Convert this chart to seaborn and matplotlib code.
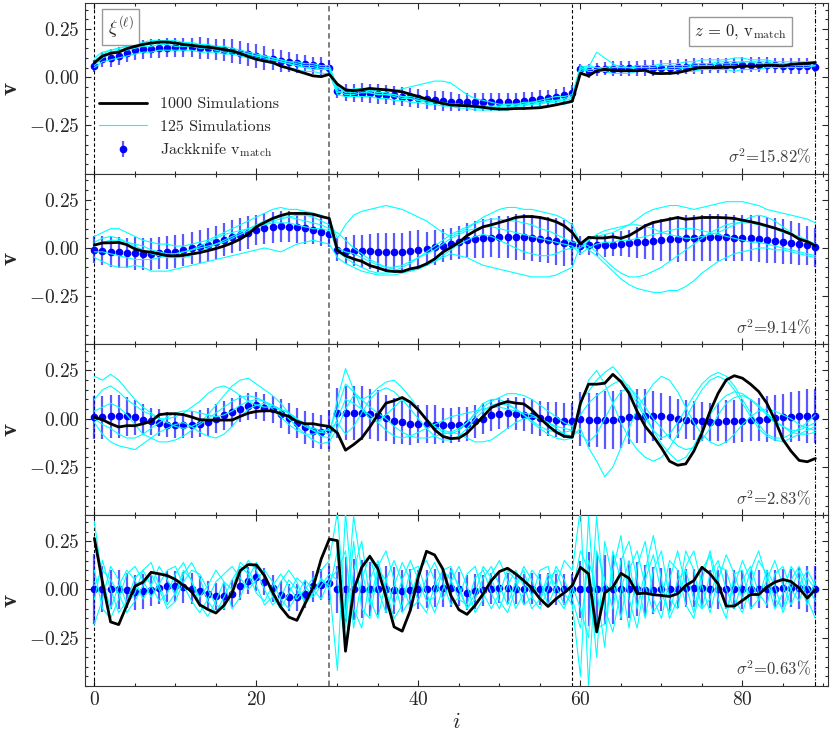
import matplotlib
matplotlib.use("Agg")
import matplotlib.pyplot as plt
from matplotlib.lines import Line2D
from matplotlib.ticker import MultipleLocator
import seaborn as sns
import pandas as pd
import numpy as np

IDX = list(range(90))
SIGMAS = ["15.82", "9.14", "2.83", "0.63"]
VLINES = [0, 29, 59, 89]

# ---- panel 1 ----
P1_BLACK = [0.075, 0.11, 0.124, 0.13, 0.148, 0.16, 0.17, 0.177, 0.182, 0.182,
            0.177, 0.17, 0.165, 0.16, 0.155, 0.151, 0.144, 0.136, 0.124, 0.107,
            0.093, 0.084, 0.076, 0.058, 0.046, 0.033, 0.02, 0.007, 0.003, 0.015,
            -0.036, -0.065, -0.07, -0.065, -0.058, -0.062, -0.065, -0.07, -0.076, -0.088,
            -0.1, -0.113, -0.125, -0.136, -0.144, -0.146, -0.148, -0.151, -0.156, -0.162,
            -0.165, -0.165, -0.162, -0.162, -0.16, -0.158, -0.151, -0.143, -0.134, -0.124,
            0.021, 0.007, 0.033, 0.041, 0.036, 0.033, 0.034, 0.034, 0.036, 0.02,
            0.019, 0.02, 0.024, 0.033, 0.045, 0.05, 0.05, 0.05, 0.052, 0.053,
            0.058, 0.057, 0.058, 0.062, 0.062, 0.058, 0.067, 0.07, 0.072, 0.076]
P1_JACK = [0.058, 0.093, 0.10, 0.11, 0.127, 0.139, 0.144, 0.148, 0.15, 0.153,
           0.155, 0.155, 0.155, 0.151, 0.15, 0.144, 0.141, 0.136, 0.127, 0.119,
           0.11, 0.10, 0.093, 0.084, 0.079, 0.072, 0.067, 0.062, 0.058, 0.05,
           -0.07, -0.08, -0.082, -0.08, -0.083, -0.087, -0.09, -0.093, -0.1, -0.104,
           -0.11, -0.115, -0.12, -0.123, -0.127, -0.13, -0.128, -0.128, -0.128, -0.128,
           -0.128, -0.126, -0.126, -0.124, -0.119, -0.113, -0.108, -0.101, -0.093, -0.082,
           0.041, 0.033, 0.041, 0.045, 0.045, 0.046, 0.046, 0.046, 0.048, 0.048,
           0.05, 0.05, 0.053, 0.055, 0.058, 0.058, 0.06, 0.06, 0.062, 0.062,
           0.064, 0.065, 0.065, 0.064, 0.062, 0.06, 0.058, 0.058, 0.058, 0.055]
P1_ERR = ([0.03, 0.04, 0.045, 0.045, 0.05, 0.05, 0.05, 0.05, 0.05, 0.05,
           0.05, 0.05, 0.05, 0.055, 0.055, 0.055, 0.055, 0.06, 0.06, 0.06,
           0.06, 0.06, 0.055, 0.055, 0.05, 0.05, 0.05, 0.045, 0.045, 0.04]
          + [0.04, 0.045, 0.045, 0.05, 0.05, 0.05, 0.05, 0.05, 0.05, 0.05,
             0.05, 0.05, 0.05, 0.05, 0.05, 0.045, 0.045, 0.045, 0.045, 0.045,
             0.045, 0.045, 0.045, 0.045, 0.045, 0.045, 0.04, 0.04, 0.04, 0.04]
          + [0.03, 0.035, 0.035, 0.035, 0.04, 0.04, 0.04, 0.04, 0.04, 0.04,
             0.04, 0.04, 0.04, 0.04, 0.04, 0.04, 0.04, 0.04, 0.04, 0.04,
             0.04, 0.04, 0.04, 0.04, 0.04, 0.04, 0.04, 0.04, 0.04, 0.03])
P1_CYAN = [
    [0.08, 0.12, 0.14, 0.15, 0.16, 0.17, 0.18, 0.19, 0.19, 0.19, 0.19, 0.18, 0.18, 0.17, 0.17,
     0.16, 0.16, 0.15, 0.14, 0.13, 0.12, 0.11, 0.1, 0.09, 0.08, 0.07, 0.06, 0.06, 0.05, 0.05,
     -0.06, -0.07, -0.07, -0.06, -0.07, -0.08, -0.08, -0.09, -0.1, -0.1, -0.11, -0.12, -0.13, -0.13, -0.14,
     -0.14, -0.15, -0.15, -0.15, -0.15, -0.15, -0.14, -0.14, -0.14, -0.13, -0.13, -0.12, -0.12, -0.11, -0.1,
     0.04, 0.05, 0.13, 0.1, 0.07, 0.05, 0.05, 0.04, 0.04, 0.04, 0.04, 0.05, 0.05, 0.05, 0.06,
     0.06, 0.06, 0.07, 0.07, 0.07, 0.08, 0.08, 0.08, 0.08, 0.07, 0.07, 0.07, 0.07, 0.08, 0.08],
    [0.05, 0.08, 0.09, 0.1, 0.11, 0.12, 0.13, 0.13, 0.14, 0.14, 0.14, 0.14, 0.14, 0.13, 0.13,
     0.13, 0.12, 0.12, 0.11, 0.1, 0.09, 0.08, 0.07, 0.06, 0.05, 0.04, 0.03, 0.03, 0.02, 0.02,
     -0.09, -0.1, -0.1, -0.1, -0.1, -0.11, -0.11, -0.12, -0.12, -0.13, -0.13, -0.14, -0.14, -0.15, -0.15,
     -0.16, -0.16, -0.17, -0.17, -0.17, -0.17, -0.17, -0.16, -0.16, -0.16, -0.15, -0.15, -0.14, -0.14, -0.13,
     0.05, 0.03, 0.03, 0.03, 0.02, 0.02, 0.02, 0.03, 0.03, 0.02, 0.02, 0.02, 0.03, 0.03, 0.03,
     0.04, 0.04, 0.04, 0.04, 0.03, 0.04, 0.04, 0.04, 0.05, 0.05, 0.05, 0.05, 0.05, 0.05, 0.06],
    [0.1, 0.13, 0.14, 0.15, 0.16, 0.17, 0.17, 0.18, 0.18, 0.18, 0.17, 0.17, 0.16, 0.16, 0.15,
     0.15, 0.14, 0.14, 0.13, 0.12, 0.11, 0.11, 0.1, 0.09, 0.08, 0.08, 0.07, 0.07, 0.06, 0.06,
     -0.05, -0.08, -0.08, -0.07, -0.07, -0.07, -0.07, -0.07, -0.06, -0.05, -0.04, -0.03, -0.02, -0.02, -0.03,
     -0.06, -0.09, -0.11, -0.12, -0.13, -0.14, -0.14, -0.14, -0.13, -0.13, -0.12, -0.11, -0.1, -0.1, -0.09,
     0.06, 0.05, 0.05, 0.04, 0.05, 0.05, 0.05, 0.06, 0.06, 0.06, 0.07, 0.07, 0.07, 0.08, 0.08,
     0.09, 0.09, 0.09, 0.09, 0.1, 0.1, 0.09, 0.09, 0.09, 0.08, 0.08, 0.08, 0.08, 0.08, 0.07],
    [0.06, 0.1, 0.12, 0.13, 0.14, 0.15, 0.16, 0.16, 0.17, 0.17, 0.16, 0.16, 0.16, 0.15, 0.15,
     0.14, 0.13, 0.13, 0.12, 0.11, 0.1, 0.09, 0.09, 0.08, 0.07, 0.06, 0.05, 0.04, 0.04, 0.04,
     -0.07, -0.09, -0.09, -0.08, -0.08, -0.09, -0.09, -0.1, -0.11, -0.11, -0.12, -0.13, -0.13, -0.14, -0.14,
     -0.15, -0.15, -0.16, -0.16, -0.16, -0.16, -0.16, -0.15, -0.15, -0.14, -0.14, -0.13, -0.13, -0.12, -0.11,
     0.03, 0.04, 0.04, 0.04, 0.04, 0.03, 0.03, 0.03, 0.04, 0.04, 0.04, 0.04, 0.04, 0.05, 0.05,
     0.05, 0.05, 0.05, 0.06, 0.06, 0.06, 0.06, 0.06, 0.06, 0.06, 0.06, 0.06, 0.07, 0.07, 0.07],
    [0.09, 0.11, 0.13, 0.14, 0.15, 0.16, 0.17, 0.17, 0.18, 0.18, 0.18, 0.18, 0.17, 0.17, 0.16,
     0.16, 0.15, 0.14, 0.13, 0.12, 0.11, 0.1, 0.09, 0.08, 0.07, 0.06, 0.05, 0.05, 0.04, 0.05,
     -0.08, -0.07, -0.06, -0.06, -0.08, -0.09, -0.09, -0.09, -0.1, -0.11, -0.12, -0.12, -0.13, -0.14, -0.14,
     -0.14, -0.15, -0.15, -0.16, -0.16, -0.15, -0.15, -0.15, -0.14, -0.14, -0.13, -0.13, -0.12, -0.12, -0.11,
     0.05, 0.06, 0.05, 0.05, 0.06, 0.06, 0.05, 0.05, 0.05, 0.05, 0.06, 0.06, 0.06, 0.06, 0.07,
     0.07, 0.07, 0.08, 0.08, 0.08, 0.08, 0.08, 0.07, 0.07, 0.07, 0.07, 0.06, 0.06, 0.06, 0.06],
]

# ---- panel 2 ----
P2_BLACK = [0.015, 0.026, 0.027, 0.029, 0.017, -0.005, -0.017, -0.022, -0.031, -0.04,
            -0.041, -0.038, -0.031, -0.024, -0.014, -0.003, 0.01, 0.026, 0.046, 0.072,
            0.11, 0.132, 0.153, 0.168, 0.179, 0.179, 0.179, 0.175, 0.163, 0.153,
            -0.014, -0.04, -0.057, -0.069, -0.091, -0.103, -0.117, -0.122, -0.122, -0.108,
            -0.1, -0.082, -0.057, -0.022, 0.003, 0.029, 0.064, 0.089, 0.11, 0.12,
            0.132, 0.144, 0.158, 0.163, 0.163, 0.158, 0.149, 0.136, 0.115, 0.08,
            0.021, 0.055, 0.052, 0.052, 0.058, 0.05, 0.064, 0.089, 0.115, 0.132,
            0.141, 0.149, 0.158, 0.149, 0.153, 0.158, 0.158, 0.158, 0.156, 0.153,
            0.144, 0.136, 0.127, 0.115, 0.103, 0.089, 0.072, 0.046, 0.033, 0.012]
P2_JACK = [-0.01, -0.014, -0.019, -0.022, -0.026, -0.027, -0.031, -0.031, -0.026, -0.022,
           -0.019, -0.01, 0.0, 0.007, 0.017, 0.029, 0.043, 0.058, 0.069, 0.079,
           0.093, 0.101, 0.107, 0.112, 0.11, 0.107, 0.101, 0.095, 0.084, 0.075,
           -0.01, -0.014, -0.014, -0.017, -0.017, -0.022, -0.022, -0.022, -0.02, -0.014,
           -0.009, -0.005, 0.003, 0.012, 0.021, 0.029, 0.041, 0.045, 0.05, 0.053,
           0.057, 0.058, 0.058, 0.057, 0.053, 0.048, 0.043, 0.034, 0.026, 0.021,
           0.012, 0.014, 0.014, 0.015, 0.017, 0.021, 0.024, 0.029, 0.033, 0.038,
           0.041, 0.045, 0.048, 0.05, 0.052, 0.053, 0.055, 0.055, 0.055, 0.053,
           0.052, 0.05, 0.046, 0.043, 0.038, 0.033, 0.028, 0.021, 0.014, 0.003]
P2_ERR = ([0.07, 0.075, 0.08, 0.08, 0.08, 0.085, 0.085, 0.085, 0.085, 0.085,
           0.085, 0.085, 0.085, 0.085, 0.085, 0.085, 0.085, 0.085, 0.085, 0.085,
           0.08, 0.08, 0.08, 0.08, 0.08, 0.08, 0.08, 0.075, 0.075, 0.07]
          + [0.06, 0.07, 0.08, 0.085, 0.09, 0.1, 0.1, 0.1, 0.1, 0.1,
             0.1, 0.09, 0.09, 0.085, 0.085, 0.085, 0.09, 0.095, 0.1, 0.1,
             0.11, 0.11, 0.12, 0.12, 0.12, 0.12, 0.12, 0.12, 0.12, 0.11]
          + [0.05, 0.05, 0.055, 0.06, 0.06, 0.065, 0.07, 0.08, 0.09, 0.1,
             0.11, 0.115, 0.12, 0.12, 0.12, 0.12, 0.12, 0.12, 0.12, 0.12,
             0.12, 0.12, 0.12, 0.12, 0.115, 0.115, 0.11, 0.11, 0.1, 0.1])
P2_CYAN = [
    [0.06, 0.08, 0.1, 0.1, 0.08, 0.06, 0.04, 0.03, 0.02, 0.02, 0.01, 0.01, 0.02, 0.03, 0.04,
     0.06, 0.08, 0.1, 0.12, 0.14, 0.16, 0.18, 0.2, 0.21, 0.2, 0.2, 0.19, 0.18, 0.17, 0.15,
     0.05, 0.12, 0.17, 0.19, 0.2, 0.21, 0.22, 0.21, 0.2, 0.18, 0.16, 0.14, 0.11, 0.08, 0.06,
     0.08, 0.1, 0.13, 0.16, 0.18, 0.2, 0.21, 0.21, 0.2, 0.2, 0.19, 0.18, 0.17, 0.15, 0.12,
     0.02, 0.04, 0.06, 0.07, 0.08, 0.1, 0.12, 0.15, 0.18, 0.2, 0.21, 0.22, 0.22, 0.21, 0.2,
     0.21, 0.22, 0.23, 0.24, 0.24, 0.24, 0.23, 0.22, 0.2, 0.19, 0.18, 0.17, 0.16, 0.15, 0.13],
    [-0.05, -0.07, -0.09, -0.1, -0.1, -0.09, -0.1, -0.12, -0.12, -0.12, -0.11, -0.1, -0.09, -0.08, -0.07,
     -0.06, -0.05, -0.04, -0.03, -0.02, -0.01, 0.0, -0.01, -0.02, 0.0, 0.02, 0.03, 0.04, 0.03, 0.02,
     -0.05, -0.08, -0.1, -0.12, -0.13, -0.14, -0.14, -0.14, -0.13, -0.12, -0.1, -0.09, -0.07, -0.05, -0.03,
     -0.04, -0.05, -0.07, -0.09, -0.1, -0.11, -0.12, -0.13, -0.14, -0.15, -0.15, -0.15, -0.14, -0.12, -0.1,
     0.02, -0.01, -0.04, -0.08, -0.12, -0.16, -0.19, -0.21, -0.22, -0.23, -0.23, -0.22, -0.22, -0.2, -0.17,
     -0.13, -0.1, -0.07, -0.05, -0.03, -0.02, -0.01, 0.0, 0.0, -0.01, -0.01, -0.02, -0.03, -0.04, -0.05],
    [0.03, 0.05, 0.06, 0.05, 0.03, 0.01, -0.01, -0.03, -0.04, -0.05, -0.05, -0.05, -0.04, -0.02, 0.0,
     0.02, 0.04, 0.06, 0.08, 0.1, 0.12, 0.14, 0.15, 0.16, 0.16, 0.15, 0.14, 0.13, 0.12, 0.1,
     -0.02, -0.05, -0.08, -0.1, -0.12, -0.13, -0.13, -0.12, -0.1, -0.08, -0.05, -0.02, 0.01, 0.04, 0.07,
     0.09, 0.11, 0.13, 0.14, 0.15, 0.15, 0.14, 0.14, 0.13, 0.12, 0.1, 0.09, 0.07, 0.05, 0.03,
     0.03, 0.01, -0.02, -0.06, -0.1, -0.13, -0.15, -0.15, -0.14, -0.12, -0.1, -0.07, -0.04, -0.01, 0.02,
     0.05, 0.08, 0.1, 0.12, 0.13, 0.13, 0.13, 0.12, 0.11, 0.1, 0.08, 0.07, 0.06, 0.04, 0.02],
    [-0.02, -0.02, -0.03, -0.04, -0.05, -0.06, -0.06, -0.06, -0.05, -0.04, -0.03, -0.02, -0.01, 0.0, 0.01,
     0.02, 0.03, 0.05, 0.07, 0.09, 0.11, 0.12, 0.13, 0.13, 0.13, 0.12, 0.11, 0.1, 0.1, 0.09,
     0.08, 0.04, 0.0, -0.03, -0.06, -0.08, -0.1, -0.11, -0.12, -0.12, -0.11, -0.09, -0.07, -0.04, -0.01,
     0.02, 0.04, 0.06, 0.07, 0.06, 0.04, 0.02, 0.0, -0.02, -0.03, -0.04, -0.04, -0.03, -0.01, 0.0,
     0.0, 0.04, 0.07, 0.09, 0.1, 0.11, 0.12, 0.12, 0.11, 0.1, 0.08, 0.07, 0.06, 0.05, 0.05,
     0.06, 0.07, 0.08, 0.1, 0.12, 0.14, 0.16, 0.17, 0.16, 0.14, 0.11, 0.08, 0.05, 0.03, 0.01],
    [0.01, 0.03, 0.04, 0.04, 0.03, 0.02, 0.01, -0.01, -0.02, -0.03, -0.03, -0.02, -0.01, 0.01, 0.03,
     0.05, 0.07, 0.08, 0.09, 0.1, 0.11, 0.12, 0.14, 0.15, 0.16, 0.17, 0.17, 0.16, 0.14, 0.12,
     0.0, -0.02, -0.03, -0.05, -0.07, -0.09, -0.1, -0.1, -0.09, -0.07, -0.05, -0.03, -0.01, 0.02, 0.05,
     0.07, 0.09, 0.1, 0.11, 0.11, 0.1, 0.09, 0.08, 0.07, 0.06, 0.05, 0.04, 0.03, 0.02, 0.01,
     -0.03, 0.0, 0.02, 0.03, 0.03, 0.04, 0.04, 0.05, 0.06, 0.07, 0.08, 0.09, 0.1, 0.1, 0.1,
     0.09, 0.08, 0.07, 0.06, 0.05, 0.04, 0.03, 0.03, 0.02, 0.01, 0.0, -0.01, -0.02, -0.03, -0.04],
]

# ---- panel 3 ----
P3_BLACK = [0.007, -0.005, -0.026, -0.043, -0.036, -0.036, -0.026, -0.014, 0.021, 0.026,
            0.026, 0.021, 0.009, -0.005, -0.007, -0.007, -0.007, -0.007, 0.012, 0.029,
            0.038, 0.041, 0.041, 0.026, 0.012, -0.014, -0.026, -0.026, -0.034, -0.04,
            -0.074, -0.163, -0.134, -0.1, -0.043, 0.021, 0.081, 0.093, 0.11, 0.086,
            0.046, -0.005, -0.057, -0.091, -0.103, -0.1, -0.074, -0.031, 0.012, 0.058,
            0.076, 0.089, 0.081, 0.077, 0.046, 0.003, -0.036, -0.069, -0.091, -0.096,
            0.081, 0.179, 0.179, 0.184, 0.23, 0.192, 0.132, 0.038, -0.04, -0.091,
            -0.151, -0.22, -0.241, -0.234, -0.168, -0.074, 0.038, 0.132, 0.201, 0.223,
            0.21, 0.179, 0.141, 0.081, -0.005, -0.108, -0.168, -0.216, -0.223, -0.206]
P3_JACK = [0.007, 0.007, 0.012, 0.012, 0.012, 0.007, -0.005, -0.014, -0.022, -0.031,
           -0.034, -0.034, -0.031, -0.026, -0.017, 0.0, 0.017, 0.034, 0.052, 0.064,
           0.069, 0.058, 0.05, 0.026, 0.003, -0.022, -0.045, -0.062, -0.069, -0.055,
           0.029, 0.029, 0.029, 0.029, 0.024, 0.017, 0.003, -0.01, -0.019, -0.026,
           -0.027, -0.027, -0.031, -0.034, -0.034, -0.031, -0.027, -0.014, 0.0, 0.017,
           0.026, 0.029, 0.026, 0.021, 0.012, 0.003, -0.002, -0.005, -0.01, -0.01,
           0.0, -0.005, -0.007, -0.007, -0.005, 0.0, 0.007, 0.012, 0.014, 0.012,
           0.012, 0.007, 0.0, -0.005, -0.01, -0.014, -0.017, -0.017, -0.014, -0.014,
           -0.01, -0.007, -0.005, 0.0, 0.003, 0.007, 0.01, 0.012, 0.012, 0.012]
P3_ERR = ([0.11, 0.11, 0.11, 0.11, 0.1, 0.09, 0.08, 0.07, 0.07, 0.065,
           0.065, 0.065, 0.07, 0.07, 0.075, 0.075, 0.075, 0.075, 0.07, 0.07,
           0.07, 0.07, 0.07, 0.075, 0.08, 0.08, 0.085, 0.09, 0.09, 0.1]
          + [0.13, 0.14, 0.14, 0.14, 0.13, 0.13, 0.12, 0.12, 0.11, 0.11,
             0.1, 0.1, 0.1, 0.09, 0.09, 0.09, 0.09, 0.085, 0.08, 0.08,
             0.08, 0.08, 0.085, 0.085, 0.09, 0.09, 0.09, 0.09, 0.09, 0.09]
          + [0.14, 0.14, 0.14, 0.15, 0.15, 0.15, 0.14, 0.14, 0.14, 0.13,
             0.12, 0.11, 0.1, 0.1, 0.1, 0.1, 0.1, 0.1, 0.11, 0.11,
             0.11, 0.11, 0.11, 0.12, 0.12, 0.12, 0.13, 0.13, 0.14, 0.14])
P3_CYAN = [
    [0.22, 0.2, 0.23, 0.2, 0.15, 0.1, 0.06, 0.03, 0.0, -0.02, -0.04, -0.05, -0.04, -0.02, 0.02,
     0.07, 0.12, 0.17, 0.2, 0.21, 0.18, 0.15, 0.12, 0.08, 0.03, -0.01, -0.04, -0.06, -0.07, -0.08,
     0.1, 0.26, 0.15, 0.05, 0.0, -0.02, 0.02, 0.06, 0.1, 0.08, 0.05, 0.0, -0.04, -0.07, -0.08,
     -0.06, -0.02, 0.03, 0.08, 0.1, 0.1, 0.08, 0.05, 0.02, -0.02, -0.05, -0.08, -0.1, -0.11, -0.1,
     0.1, 0.14, 0.2, 0.24, 0.27, 0.22, 0.15, 0.08, 0.0, -0.06, -0.1, -0.08, -0.02, 0.05, 0.12,
     0.18, 0.22, 0.24, 0.22, 0.17, 0.1, 0.03, -0.03, -0.08, -0.1, -0.1, -0.08, -0.05, -0.02, 0.02],
    [-0.02, -0.08, -0.12, -0.14, -0.15, -0.16, -0.13, -0.1, -0.07, -0.05, -0.03, -0.02, -0.04, -0.07, -0.09,
     -0.1, -0.08, -0.04, 0.01, 0.05, 0.07, 0.08, 0.07, 0.04, 0.0, -0.04, -0.08, -0.11, -0.13, -0.12,
     -0.05, 0.05, 0.12, 0.1, 0.06, 0.03, 0.0, -0.04, -0.07, -0.09, -0.1, -0.1, -0.09, -0.08, -0.07,
     -0.08, -0.1, -0.12, -0.12, -0.11, -0.08, -0.05, -0.02, 0.0, 0.01, 0.0, -0.02, -0.05, -0.08, -0.09,
     -0.05, -0.15, -0.22, -0.3, -0.25, -0.15, -0.05, 0.05, 0.12, 0.18, 0.22, 0.2, 0.14, 0.06, -0.02,
     -0.08, -0.12, -0.14, -0.12, -0.08, -0.03, 0.01, 0.04, 0.05, 0.04, 0.02, 0.0, -0.03, -0.05, -0.06],
    [0.1, 0.15, 0.17, 0.14, 0.1, 0.07, 0.04, 0.02, 0.0, 0.0, 0.01, 0.03, 0.06, 0.09, 0.13,
     0.16, 0.17, 0.15, 0.12, 0.09, 0.07, 0.06, 0.06, 0.05, 0.03, 0.0, -0.03, -0.05, -0.06, -0.06,
     0.05, 0.18, 0.14, 0.1, 0.12, 0.16, 0.19, 0.2, 0.16, 0.11, 0.05, 0.0, -0.04, -0.06, -0.07,
     -0.05, -0.02, 0.02, 0.06, 0.09, 0.11, 0.13, 0.13, 0.12, 0.1, 0.07, 0.04, 0.01, -0.02, -0.04,
     0.02, 0.08, 0.12, 0.15, 0.18, 0.2, 0.17, 0.1, 0.02, -0.06, -0.13, -0.18, -0.22, -0.2, -0.14,
     -0.06, 0.02, 0.08, 0.12, 0.14, 0.13, 0.1, 0.06, 0.02, -0.02, -0.04, -0.06, -0.06, -0.04, -0.02],
    [0.04, 0.06, 0.08, 0.06, 0.02, -0.03, -0.08, -0.1, -0.12, -0.12, -0.11, -0.09, -0.06, -0.03, 0.0,
     0.03, 0.06, 0.09, 0.11, 0.12, 0.11, 0.09, 0.05, 0.01, -0.03, -0.06, -0.08, -0.08, -0.07, -0.05,
     -0.02, -0.08, -0.04, 0.03, 0.1, 0.14, 0.16, 0.14, 0.1, 0.05, 0.0, -0.05, -0.09, -0.11, -0.11,
     -0.09, -0.05, 0.0, 0.04, 0.07, 0.08, 0.07, 0.05, 0.02, -0.01, -0.04, -0.06, -0.07, -0.07, -0.06,
     0.06, 0.2, 0.25, 0.18, 0.08, -0.02, -0.1, -0.16, -0.2, -0.22, -0.2, -0.15, -0.08, 0.0, 0.08,
     0.15, 0.2, 0.22, 0.2, 0.15, 0.08, 0.01, -0.05, -0.09, -0.11, -0.12, -0.1, -0.08, -0.06, -0.04],
    [0.0, -0.03, -0.05, -0.08, -0.1, -0.1, -0.08, -0.05, -0.02, 0.01, 0.03, 0.04, 0.04, 0.03, 0.02,
     0.01, 0.02, 0.04, 0.07, 0.09, 0.1, 0.09, 0.07, 0.05, 0.03, 0.0, -0.03, -0.06, -0.09, -0.1,
     0.0, 0.1, 0.08, 0.05, 0.02, -0.02, -0.06, -0.09, -0.1, -0.09, -0.07, -0.05, -0.03, -0.01, 0.01,
     0.02, 0.03, 0.04, 0.05, 0.06, 0.06, 0.05, 0.04, 0.03, 0.02, 0.0, -0.02, -0.04, -0.05, -0.06,
     -0.08, -0.12, -0.08, 0.0, 0.08, 0.14, 0.16, 0.12, 0.06, 0.0, -0.05, -0.1, -0.14, -0.16, -0.15,
     -0.11, -0.05, 0.02, 0.08, 0.11, 0.12, 0.1, 0.07, 0.03, -0.01, -0.04, -0.07, -0.08, -0.08, -0.07],
]

# ---- panel 4 ----
P4_BLACK = [0.265, 0.038, -0.168, -0.182, -0.082, 0.017, 0.038, 0.089, 0.081, 0.072,
            0.052, 0.021, -0.01, -0.079, -0.103, -0.122, -0.082, -0.017, 0.098, 0.129,
            0.127, 0.072, -0.014, -0.091, -0.143, -0.16, -0.074, 0.012, 0.158, 0.261,
            0.253, -0.32, -0.005, 0.115, 0.172, 0.107, -0.04, -0.194, -0.216, -0.108,
            0.067, 0.198, 0.179, 0.107, -0.031, -0.105, -0.129, -0.082, -0.022, 0.046,
            0.093, 0.11, 0.081, 0.046, 0.007, -0.048, -0.088, -0.048, -0.017, 0.021,
            0.115, 0.081, -0.22, -0.017, 0.012, 0.084, 0.058, -0.022, -0.019, -0.027,
            -0.031, -0.036, -0.022, 0.021, 0.046, 0.115, 0.081, 0.029, -0.086, -0.086,
            -0.057, -0.026, -0.026, 0.012, 0.038, 0.052, 0.041, 0.007, -0.045, 0.0]
P4_JACK = [0.003, 0.003, 0.0, 0.0, -0.005, -0.014, -0.01, -0.005, 0.007, 0.017,
           0.017, 0.012, 0.003, -0.01, -0.026, -0.034, -0.034, -0.022, 0.017, 0.046,
           0.064, 0.041, 0.007, -0.027, -0.04, -0.04, -0.026, 0.017, 0.024, 0.034,
           0.0, 0.0, 0.0, 0.003, 0.003, 0.0, 0.0, -0.005, -0.009, -0.005,
           0.0, 0.003, 0.007, 0.009, 0.009, 0.003, -0.017, -0.01, -0.005, 0.003,
           0.009, 0.007, 0.003, 0.0, 0.003, 0.0, 0.003, 0.0, 0.0, 0.0,
           0.0, 0.003, 0.0, 0.0, 0.0, 0.003, 0.0, 0.0, -0.005, -0.005,
           0.0, 0.0, 0.003, 0.007, 0.007, 0.007, 0.003, 0.0, 0.0, 0.0,
           0.0, 0.0, 0.003, 0.003, 0.003, 0.007, 0.007, 0.007, 0.003, 0.0]
P4_ERR = ([0.18, 0.12, 0.1, 0.1, 0.09, 0.09, 0.09, 0.08, 0.08, 0.08,
           0.08, 0.08, 0.08, 0.08, 0.07, 0.07, 0.07, 0.07, 0.07, 0.07,
           0.07, 0.07, 0.07, 0.07, 0.07, 0.07, 0.07, 0.08, 0.08, 0.09]
          + [0.12, 0.17, 0.16, 0.15, 0.14, 0.13, 0.12, 0.12, 0.11, 0.11,
             0.1, 0.1, 0.1, 0.1, 0.1, 0.09, 0.09, 0.09, 0.08, 0.08,
             0.08, 0.08, 0.08, 0.08, 0.08, 0.08, 0.08, 0.08, 0.08, 0.08]
          + [0.15, 0.19, 0.19, 0.18, 0.18, 0.16, 0.15, 0.14, 0.13, 0.12,
             0.11, 0.11, 0.1, 0.1, 0.1, 0.1, 0.1, 0.1, 0.1, 0.1,
             0.1, 0.1, 0.1, 0.1, 0.1, 0.1, 0.1, 0.11, 0.12, 0.12])
P4_CYAN = [
    [0.35, 0.05, -0.1, 0.02, 0.1, 0.05, -0.05, 0.02, 0.12, 0.05, -0.03, 0.08, 0.14, 0.06, -0.06,
     -0.12, -0.04, 0.05, 0.12, 0.08, -0.02, -0.06, 0.02, 0.08, 0.02, -0.05, 0.0, 0.06, 0.1, 0.15,
     0.4, -0.15, 0.38, 0.1, -0.08, 0.12, 0.2, 0.05, -0.12, -0.05, 0.1, 0.15, 0.05, -0.05, 0.04,
     0.12, 0.02, -0.12, -0.05, 0.08, 0.15, 0.05, -0.1, -0.02, 0.1, 0.05, -0.08, 0.02, 0.15, 0.1,
     0.42, -0.5, 0.2, 0.05, -0.1, 0.15, 0.25, 0.05, -0.15, 0.1, 0.2, -0.05, -0.1, 0.12, 0.2,
     0.02, -0.12, 0.05, 0.18, 0.08, -0.05, 0.1, 0.2, 0.05, -0.1, -0.02, 0.12, 0.05, -0.08, 0.05],
    [-0.18, -0.05, 0.12, 0.05, -0.08, -0.02, 0.1, 0.14, 0.02, -0.08, -0.02, 0.1, 0.05, -0.08, -0.14,
     -0.06, 0.04, 0.0, 0.08, 0.15, 0.1, 0.0, -0.08, -0.04, 0.05, 0.0, -0.06, -0.02, 0.05, 0.02,
     -0.42, 0.4, -0.1, -0.2, 0.05, 0.15, 0.0, -0.15, -0.08, 0.1, 0.12, -0.02, -0.12, 0.0, 0.1,
     0.02, -0.1, -0.02, 0.12, 0.06, -0.06, -0.12, 0.0, 0.12, 0.05, -0.06, 0.05, 0.1, -0.02, -0.08,
     -0.45, 0.38, -0.2, -0.18, 0.1, 0.28, -0.05, -0.2, 0.05, 0.18, -0.02, -0.12, 0.05, 0.1, -0.05,
     -0.1, 0.08, 0.15, 0.0, -0.1, 0.05, 0.12, -0.02, -0.08, 0.08, 0.12, 0.0, -0.06, 0.06, 0.0],
    [0.1, -0.1, -0.15, -0.05, 0.08, 0.12, 0.05, -0.04, 0.03, 0.1, 0.12, 0.02, -0.06, -0.12, -0.05,
     0.04, 0.08, 0.12, 0.06, 0.0, 0.05, 0.1, 0.04, -0.05, -0.1, -0.03, 0.05, 0.0, -0.05, 0.05,
     0.1, 0.2, -0.2, 0.05, 0.18, 0.0, -0.12, 0.02, 0.14, 0.05, -0.06, -0.12, 0.02, 0.1, 0.05,
     -0.05, -0.08, 0.06, 0.1, -0.02, -0.1, 0.02, 0.1, 0.02, -0.1, -0.05, 0.08, 0.02, -0.08, -0.02,
     0.2, 0.1, -0.35, 0.25, 0.05, -0.15, 0.1, 0.2, 0.02, -0.12, -0.05, 0.15, 0.1, -0.08, -0.15,
     0.05, 0.2, 0.02, -0.1, 0.02, 0.15, 0.05, -0.06, 0.05, 0.15, 0.02, -0.08, 0.02, 0.1, 0.02],
    [-0.05, 0.15, 0.0, -0.12, -0.06, 0.06, 0.1, 0.02, -0.06, -0.02, 0.08, 0.14, 0.04, -0.04, 0.02,
     0.1, 0.04, -0.1, -0.04, 0.06, 0.14, 0.08, -0.04, -0.1, -0.02, 0.06, 0.02, -0.04, 0.02, 0.08,
     0.05, -0.3, 0.1, 0.25, -0.05, -0.15, 0.05, 0.15, 0.04, -0.1, -0.06, 0.06, 0.14, 0.04, -0.08,
     -0.04, 0.08, 0.12, -0.02, -0.1, -0.02, 0.1, 0.05, -0.08, -0.04, 0.1, 0.12, -0.04, -0.1, 0.02,
     -0.1, -0.25, 0.38, -0.1, -0.22, 0.0, 0.15, -0.1, 0.1, 0.28, 0.05, -0.15, -0.05, 0.2, 0.1,
     -0.1, -0.05, 0.12, 0.1, -0.05, -0.12, 0.02, 0.15, 0.08, -0.05, -0.1, 0.05, 0.12, 0.02, -0.06],
    [0.02, 0.1, 0.05, -0.02, -0.12, -0.06, 0.02, 0.08, 0.0, -0.1, -0.06, 0.04, 0.1, 0.08, 0.0,
     -0.08, -0.1, 0.0, 0.14, 0.1, 0.02, -0.08, -0.04, 0.04, 0.1, 0.04, -0.08, -0.02, 0.06, 0.0,
     0.2, -0.2, 0.25, -0.1, -0.15, 0.1, 0.05, -0.08, 0.05, 0.15, 0.05, -0.06, -0.04, 0.1, 0.12,
     0.0, -0.1, -0.05, 0.06, 0.12, 0.02, -0.08, 0.04, 0.1, -0.04, -0.1, 0.0, 0.12, 0.05, -0.05,
     -0.2, 0.15, 0.0, -0.3, 0.2, 0.05, -0.2, 0.12, 0.25, -0.05, -0.15, 0.05, 0.2, 0.02, -0.12,
     0.1, 0.18, -0.05, -0.15, 0.08, 0.1, -0.1, -0.05, 0.1, 0.02, -0.12, 0.0, 0.1, -0.05, -0.15],
]

PANELS = [
    (P1_BLACK, P1_JACK, P1_ERR, P1_CYAN),
    (P2_BLACK, P2_JACK, P2_ERR, P2_CYAN),
    (P3_BLACK, P3_JACK, P3_ERR, P3_CYAN),
    (P4_BLACK, P4_JACK, P4_ERR, P4_CYAN),
]

sns.set_style("ticks")
plt.rcParams["font.family"] = "serif"
plt.rcParams["font.serif"] = ["cmr10", "DejaVu Serif"]
plt.rcParams["mathtext.fontset"] = "cm"
plt.rcParams["axes.formatter.use_mathtext"] = True
plt.rcParams["axes.unicode_minus"] = True

fig, axes = plt.subplots(4, 1, sharex=True, figsize=(8.3, 7.36), dpi=100)
fig.subplots_adjust(left=0.102, right=0.997, top=0.996, bottom=0.068, hspace=0)

for n, (ax, (black, jack, err, cyan)) in enumerate(zip(axes, PANELS)):
    eb = ax.errorbar(IDX, jack, yerr=err, fmt="o", color="blue", ms=4.5,
                     ecolor=(0.0, 0.0, 1.0, 0.65), elinewidth=1.6, capsize=0,
                     zorder=2)

    # the 125-simulation realisations
    df = pd.DataFrame({
        "i": IDX * len(cyan),
        "v": [v for line in cyan for v in line],
        "sim": [k for k in range(len(cyan)) for _ in IDX],
    })
    sns.lineplot(data=df, x="i", y="v", units="sim", estimator=None,
                 color="cyan", lw=0.8, ax=ax, zorder=3, legend=False)

    sns.lineplot(x=IDX, y=black, color="black", lw=2.0, ax=ax, zorder=4, legend=False)

    for xv in VLINES:
        if xv == 29:
            ax.axvline(xv, color="0.45", ls=(0, (3, 2)), lw=1.3, zorder=1)
        elif xv == 89:
            ax.axvline(xv, color="black", ls=(0, (4, 1.5, 1, 1.5)), lw=0.8, zorder=1)
        else:
            ax.axvline(xv, color="black", ls=(0, (3, 2)), lw=0.8, zorder=1)

    ax.set_xlim(-1.2, 90.5)
    ax.set_ylim(-0.5, 0.385)
    ax.set_yticks([-0.25, 0.0, 0.25])
    ax.yaxis.set_minor_locator(MultipleLocator(0.05))
    ax.xaxis.set_major_locator(MultipleLocator(20))
    ax.xaxis.set_minor_locator(MultipleLocator(5))
    ax.tick_params(which="both", direction="in", top=True, right=True, width=0.8)
    ax.tick_params(which="major", length=4.5, labelsize=14)
    ax.tick_params(which="minor", length=2.3)
    ax.set_ylabel(r"$\mathbf{v}$", fontsize=18, labelpad=5)
    ax.set_xlabel("")
    for sp in ax.spines.values():
        sp.set_linewidth(0.8)
        sp.set_color("0.2")

    ax.text(0.978, 0.06, r"$\sigma^2$=" + SIGMAS[n] + r"$\%$", transform=ax.transAxes,
            ha="right", va="baseline", fontsize=12, color="0.25")

    if n == 0:
        ax.text(0.031, 0.935, r"$\xi^{(\ell)}$", transform=ax.transAxes,
                ha="left", va="top", fontsize=13,
                bbox=dict(boxstyle="square,pad=0.3", fc="white", ec="0.6", lw=1))
        ax.text(0.945, 0.89, r"$z\,=\,0,\,\mathrm{v}_{\mathrm{match}}$", transform=ax.transAxes,
                ha="right", va="top", fontsize=12,
                bbox=dict(boxstyle="square,pad=0.3", fc="white", ec="0.6", lw=1))
        handles = [Line2D([], [], color="black", lw=2.0),
                   Line2D([], [], color="cyan", lw=0.8), eb]
        ax.legend(handles, ["1000 Simulations", "125 Simulations",
                            r"Jackknife $\mathrm{v}_{\mathrm{match}}$"],
                  loc="lower left", frameon=False, fontsize=11.5,
                  handlelength=3.0, handletextpad=0.8)

axes[-1].set_xlabel(r"$i$", fontsize=16, labelpad=2)

fig.savefig("out.png", dpi=100)
